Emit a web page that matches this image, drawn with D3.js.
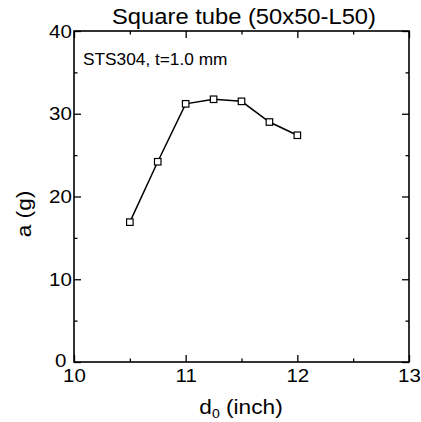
<!DOCTYPE html>
<html><head><meta charset="utf-8">
<script src="https://cdn.jsdelivr.net/npm/d3@7"></script>
<style>body{margin:0;background:#fff}svg{display:block}</style>
</head><body>
<script>
const xValues = [10.5, 10.75, 11.0, 11.25, 11.5, 11.75, 12.0];
const aValues = [16.9, 24.2, 31.2, 31.75, 31.5, 29.0, 27.4];
const xMajorTicks = [10, 11, 12, 13];
const xMinorTicks = [10.5, 11.5, 12.5];
const yMajorTicks = [0, 10, 20, 30, 40];
const yMinorTicks = [5, 15, 25, 35];
const titleText = "Square tube (50x50-L50)";
const noteText = "STS304, t=1.0 mm";
const yLabel = "a (g)";

const W = 421, H = 422;
const L = 74, R = 409, T = 31, B = 362;
const SX = 1.08;
const FONT = "'Liberation Sans', Arial, Helvetica, sans-serif";

const svg = d3.select("body").append("svg").attr("width", W).attr("height", H)
  .style("font-family", FONT);

const x = d3.scaleLinear().domain([10, 13]).range([L, R]);
const y = d3.scaleLinear().domain([0, 40]).range([B, T]);

function styleAxis(g, fs) {
  g.select(".domain").remove();
  g.selectAll("line").attr("stroke", "#000").attr("stroke-width", 1.3);
  g.selectAll("text").attr("fill", "#000").attr("font-size", fs)
    .attr("font-family", FONT)
    .attr("transform", `scale(${SX},1)`);
}

// major ticks with labels
svg.append("g").attr("transform", `translate(0,${B})`)
  .call(d3.axisBottom(x).tickValues(xMajorTicks).tickFormat(d3.format("d")).tickSizeInner(-7).tickSizeOuter(0).tickPadding(7))
  .call(g => styleAxis(g, 19));
svg.append("g").attr("transform", `translate(${L},0)`)
  .call(d3.axisLeft(y).tickValues(yMajorTicks).tickFormat(d3.format("d")).tickSizeInner(-7).tickSizeOuter(0).tickPadding(2))
  .call(g => styleAxis(g, 19))
  .call(g => g.selectAll(".tick").filter(d => d === 0).select("text")
    .attr("x", -7).attr("dy", "0.22em"));
svg.append("g").attr("transform", `translate(0,${T})`)
  .call(d3.axisTop(x).tickValues(xMajorTicks).tickFormat("").tickSizeInner(-7).tickSizeOuter(0))
  .call(g => styleAxis(g, 19));
svg.append("g").attr("transform", `translate(${R},0)`)
  .call(d3.axisRight(y).tickValues(yMajorTicks).tickFormat("").tickSizeInner(-7).tickSizeOuter(0))
  .call(g => styleAxis(g, 19));

// minor ticks
svg.append("g").attr("transform", `translate(0,${B})`)
  .call(d3.axisBottom(x).tickValues(xMinorTicks).tickFormat("").tickSizeInner(-3.5).tickSizeOuter(0))
  .call(g => styleAxis(g, 19));
svg.append("g").attr("transform", `translate(0,${T})`)
  .call(d3.axisTop(x).tickValues(xMinorTicks).tickFormat("").tickSizeInner(-3.5).tickSizeOuter(0))
  .call(g => styleAxis(g, 19));
svg.append("g").attr("transform", `translate(${L},0)`)
  .call(d3.axisLeft(y).tickValues(yMinorTicks).tickFormat("").tickSizeInner(-3.5).tickSizeOuter(0))
  .call(g => styleAxis(g, 19));
svg.append("g").attr("transform", `translate(${R},0)`)
  .call(d3.axisRight(y).tickValues(yMinorTicks).tickFormat("").tickSizeInner(-3.5).tickSizeOuter(0))
  .call(g => styleAxis(g, 19));

// frame
svg.append("rect").attr("x", L).attr("y", T).attr("width", R - L).attr("height", B - T)
  .attr("fill", "none").attr("stroke", "#000").attr("stroke-width", 1.6);

// line
const pts = xValues.map((v, i) => [v, aValues[i]]);
svg.append("path").datum(pts)
  .attr("fill", "none").attr("stroke", "#000").attr("stroke-width", 1.5)
  .attr("d", d3.line().x(d => x(d[0])).y(d => y(d[1])));

// markers
const S = 6.5;
svg.append("g").selectAll("rect").data(pts).join("rect")
  .attr("x", d => x(d[0]) - S / 2).attr("y", d => y(d[1]) - S / 2)
  .attr("width", S).attr("height", S)
  .attr("fill", "#fff").attr("stroke", "#000").attr("stroke-width", 1.2);

// title
svg.append("text").attr("transform", `translate(244,24) scale(${SX},1)`)
  .attr("text-anchor", "middle").attr("font-size", 22).attr("fill", "#000").text(titleText);

// annotation
svg.append("text").attr("transform", `translate(83,65) scale(${SX},1)`)
  .attr("font-size", 16).attr("fill", "#000").text(noteText);

// x label with subscript
const xl = svg.append("text").attr("transform", `translate(241,414) scale(${SX},1)`)
  .attr("text-anchor", "middle").attr("font-size", 21).attr("fill", "#000");
xl.append("tspan").text("d");
xl.append("tspan").attr("font-size", 13).attr("dy", 4).text("0");
xl.append("tspan").attr("dy", -4).text(" (inch)");

// y label
svg.append("text").attr("transform", `translate(31,214) rotate(-90) scale(${SX},1)`)
  .attr("text-anchor", "middle").attr("font-size", 21).attr("fill", "#000").text(yLabel);
</script>
</body></html>
